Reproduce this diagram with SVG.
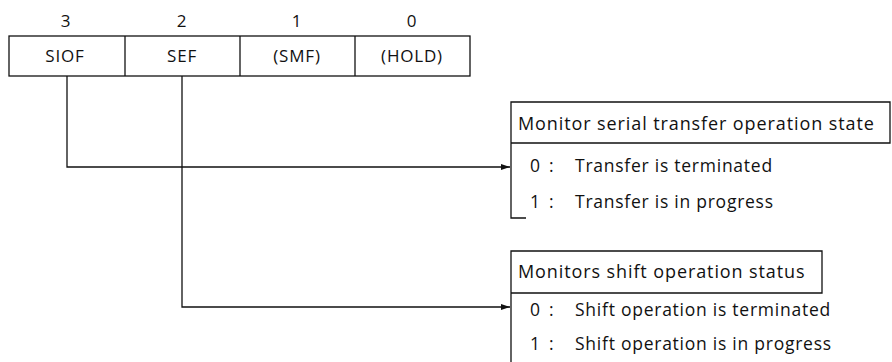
<svg xmlns="http://www.w3.org/2000/svg" width="892" height="362" viewBox="0 0 892 362">
<style>
text{font-family:"Open Sans","Liberation Sans",sans-serif;fill:#111;font-size:17px;letter-spacing:0.8px}
.c{text-anchor:middle}
.h{font-size:18px;letter-spacing:0.9px}
.i{font-size:17.5px;letter-spacing:0.75px}
.n{font-size:17.5px;letter-spacing:2.2px}
.ln{fill:none;stroke:#111;stroke-width:1.3}
</style>
<defs>
<marker id="ah" markerWidth="10" markerHeight="8" refX="9" refY="4" orient="auto" markerUnits="userSpaceOnUse">
<path d="M0,1 L9,4 L0,7 Z" fill="#111"/>
</marker>
</defs>
<g id="register">
<text class="c" x="66" y="27">3</text>
<text class="c" x="182" y="27">2</text>
<text class="c" x="297" y="27">1</text>
<text class="c" x="412" y="27">0</text>
<rect class="ln" x="9" y="36" width="461" height="40"/>
<line class="ln" x1="125" y1="36" x2="125" y2="76"/>
<line class="ln" x1="240" y1="36" x2="240" y2="76"/>
<line class="ln" x1="355" y1="36" x2="355" y2="76"/>
<text class="c" x="65" y="62">SIOF</text>
<text class="c" x="182" y="62">SEF</text>
<text class="c" x="297" y="62">(SMF)</text>
<text class="c" x="412" y="62">(HOLD)</text>
</g>
<g id="connectors">
<path class="ln" d="M67,76 V167 H510" marker-end="url(#ah)"/>
<path class="ln" d="M182,76 V307 H510" marker-end="url(#ah)"/>
</g>
<g id="siof-desc">
<path class="ln" d="M511,143 V102 H890 V143 H511 M511,143 V218 H526"/>
<text class="h" x="518" y="130">Monitor serial transfer operation state</text>
<text class="n" x="530" y="172">0 :</text>
<text class="i" x="575" y="172">Transfer is terminated</text>
<text class="n" x="530" y="208">1 :</text>
<text class="i" x="575" y="208">Transfer is in progress</text>
</g>
<g id="sef-desc">
<path class="ln" d="M511,293 V251 H822 V293 H511 M511,293 V362"/>
<text class="h" x="518" y="278">Monitors shift operation status</text>
<text class="n" x="530" y="316">0 :</text>
<text class="i" x="575" y="316">Shift operation is terminated</text>
<text class="n" x="530" y="350">1 :</text>
<text class="i" x="575" y="350">Shift operation is in progress</text>
</g>
</svg>
